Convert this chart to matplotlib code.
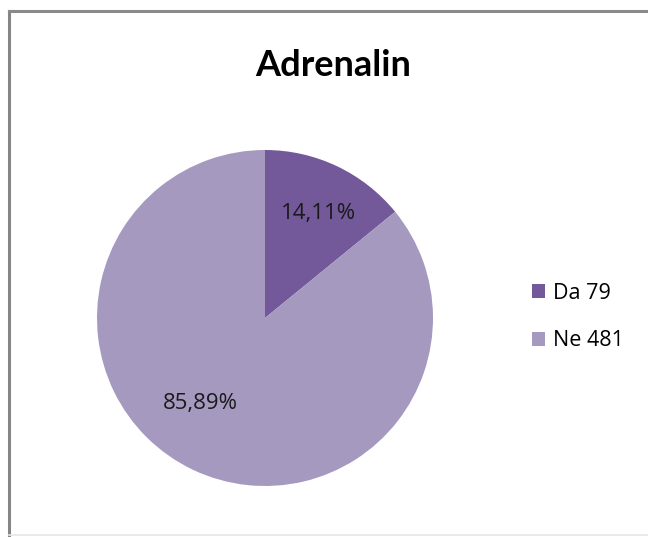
import numpy as np
import matplotlib.pyplot as plt
from matplotlib.lines import Line2D
from matplotlib.patches import Patch

# data
labels = ['Da 79', 'Ne 481']
values = [79, 481]
colors = ['#73589A', '#A699C0']
title = 'Adrenalin'

W, H = 648, 537
fig = plt.figure(figsize=(W / 100, H / 100), dpi=100)
fig.patch.set_facecolor('white')

# chart frame (gray border on left/top, faint bottom)
fig.add_artist(Line2D([9 / W, 9 / W], [1 - 11 / H, 1 - 535 / H], color='#858585', lw=2.2))
fig.add_artist(Line2D([9 / W, 1], [1 - 11 / H, 1 - 11 / H], color='#8a8a8a', lw=2.2))
fig.add_artist(Line2D([9 / W, 1], [1 - 535 / H, 1 - 535 / H], color='#e6e6e6', lw=1.2))

# pie axes: center (265, 318), radius 168 px
cx, cy, r = 265, 318, 168
ax = fig.add_axes([(cx - r) / W, 1 - (cy + r) / H, 2 * r / W, 2 * r / H])
wedges, texts, autotexts = ax.pie(
    values, colors=colors, startangle=90, counterclock=False,
    autopct=lambda p: f'{p:.2f}%'.replace('.', ','), pctdistance=0.68,
    textprops=dict(fontsize=16, color='#1a1a1a', family='Open Sans'),
    wedgeprops=dict(linewidth=0))

# Excel-like label placement (angle in degrees, distance as fraction of radius)
label_pos = [(63, 0.70), (-127, 0.64)]
for t, (ang, d) in zip(autotexts, label_pos):
    a = np.deg2rad(ang)
    t.set_position((d * np.cos(a), d * np.sin(a)))

ax.set_xlim(-1, 1)
ax.set_ylim(-1, 1)
ax.set_aspect('equal')
ax.axis('off')

fig.text(333 / W, 1 - 65 / H, title, ha='center', va='center',
         fontsize=26, fontweight='bold', family='Lato', color='black')

handles = [Patch(facecolor=c, edgecolor='none') for c in colors]
fig.legend(handles, labels, loc='center left', bbox_to_anchor=(515 / W, 1 - 317 / H),
           frameon=False, handlelength=0.6, handleheight=0.6,
           handletextpad=0.35, labelspacing=1.25, borderpad=0.3,
           prop=dict(family='Open Sans', size=15.5))

fig.savefig('out.png', dpi=100)
